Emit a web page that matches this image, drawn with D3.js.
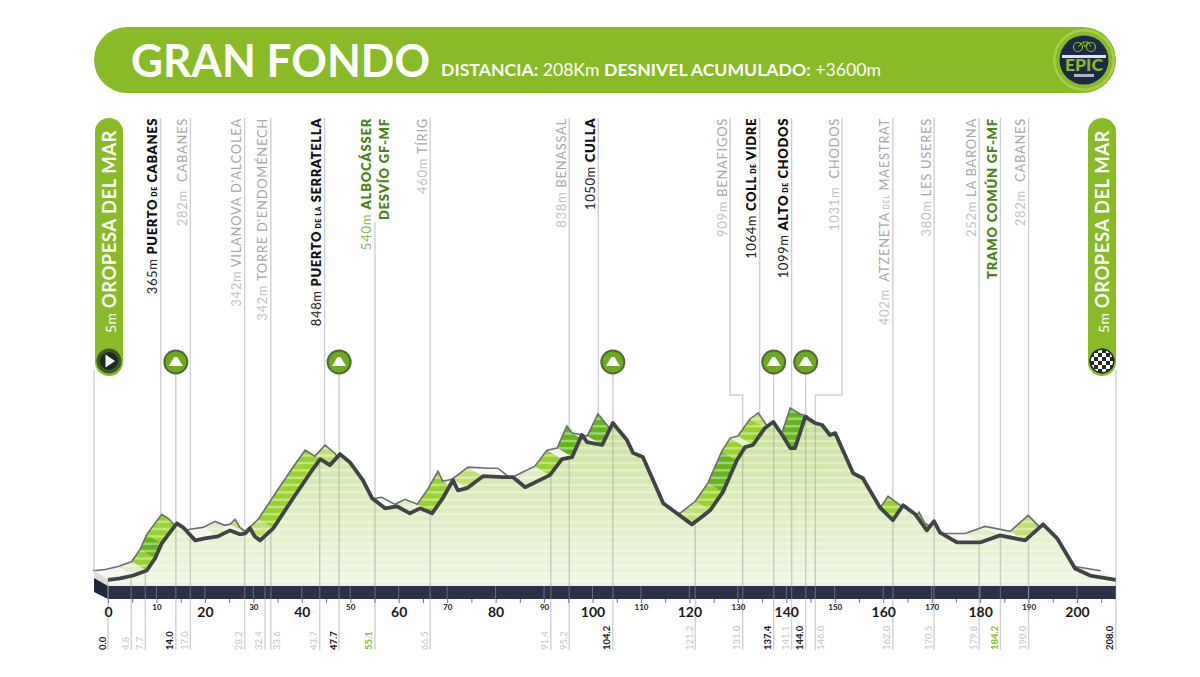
<!DOCTYPE html>
<html>
<head>
<meta charset="utf-8">
<script src="https://cdn.jsdelivr.net/npm/d3@7"></script>
<style>
  html, body { margin: 0; background: #fff; }
  text { font-family: Lato, "Open Sans", sans-serif; }
</style>
</head>
<body>
<script>
//Profile: km and metres
var profileKm = [0,2.5,5.2,8,9.7,11.1,12.8,14.2,15.5,18,20,22.7,25.2,27.2,28.3,29.3,30.3,31.4,34.1,38.2,41.7,43.8,45.8,47.9,49.9,52.6,54.5,57.2,59.6,62.3,64.4,66.9,69.1,71.2,72.2,74.1,77.4,81.5,83.6,86.1,91.2,93.7,95.8,97.8,98.9,102,104.2,107.1,108.4,110.4,114.6,117.4,120.5,122.2,124.3,126.9,129.8,131.5,133.1,135.6,137.3,139.3,140.8,141.8,143.9,145.9,147.4,149,150.1,153.8,155.8,159.3,162,164.1,166.6,169,170.5,171.7,175.2,180,184.1,189.3,193,195.9,199.6,202.7,208];
var profileElev = [5,14,34,68,150,253,328,389,362,273,287,300,341,314,321,355,300,273,355,560,730,826,785,860,805,683,560,491,505,457,491,457,560,683,614,628,710,703,703,635,717,826,840,990,942,922,1072,956,867,840,526,457,382,423,478,601,819,908,922,1038,1079,983,901,901,1113,1072,1058,990,1003,730,696,498,410,512,451,341,403,328,259,259,307,273,382,287,82,34,5];

//Km marks written under the axis
var markKm = [0,4.8,7.7,14,17,28.2,32.4,33.6,43.7,47.7,55.1,66.5,91.4,95.2,104.2,121.2,131,137.4,141.1,144,146,162,170.5,179.8,184.2,190,208];
var markKind = ["climb","grey","grey","climb","grey","grey","grey","grey","grey","climb","green","grey","grey","grey","climb","grey","grey","climb","grey","climb","grey","grey","grey","grey","green","grey","climb"];

//Rotated place labels: where the label sits, where it leads, lower case words are set small
var labelKm = [10.9,17,28.2,33.6,44.7,55.1,66.5,95.2,101.2,128.4,134.5,141.1,151.5,162,170.5,179.8,184.2,190];
var labelTarget = [14,17,28.2,33.6,47.7,55.1,66.5,95.2,104.2,131,137.4,144,146,162,170.5,179.8,184.2,190];
var labelElev = ["365m","282m\u00A0","342m","342m","848m","540m","460m","838m","1050m","909m","1064m","1099m","1031m\u00A0","402m\u00A0","380m","252m","","282m\u00A0"];
var labelName = ["PUERTO de CABANES","CABANES","VILANOVA D'ALCOLEA","TORRE D'ENDOMÉNECH","PUERTO de la SERRATELLA","ALBOCÁSSER","TÍRIG","BENASSAL","CULLA","BENAFIGOS","COLL de VIDRE","ALTO de CHODOS","CHODOS","ATZENETA del MAESTRAT","LES USERES","LA BARONA","TRAMO COMÚN GF-MF","CABANES"];
var labelKind = ["climb","grey","grey","grey","climb","green","grey","grey","climb","grey","climb","climb","grey","grey","grey","grey","green","grey"];

var climbKm = [14,47.7,104.2,137.4,144];

//Width and height
var w = 1200;
var h = 677;

var bandTop = 586;
var bandBottom = 599;
var baseY = 583;
var labelTop = 118;
var backDx = -15;
var backDy = -9;

var x = d3.scaleLinear().domain([0, 200]).range([108, 1077]);
var y = d3.scaleLinear().domain([0, 1099]).range([580.5, 419]);

var gradeColor = d3.scaleThreshold()
                   .domain([8, 22, 38, 60])
                   .range(["#f5f6ee", "#e0eec6", "#bfe173", "#98d22c", "#62b51a"]);

var profile = profileKm.map(function(km, i) { return [km, profileElev[i]]; });

var svg = d3.select("body")
            .append("svg")
            .attr("width", w)
            .attr("height", h)
            .style("display", "block");

var defs = svg.append("defs");

var areaGrad = defs.append("linearGradient")
                   .attr("id", "areaGrad")
                   .attr("gradientUnits", "userSpaceOnUse")
                   .attr("x1", 0).attr("x2", 0)
                   .attr("y1", y(1099)).attr("y2", baseY);
areaGrad.append("stop").attr("offset", 0).attr("stop-color", "#c6e198");
areaGrad.append("stop").attr("offset", 1).attr("stop-color", "#f1f7e2");

//Header bar
svg.append("rect")
   .attr("x", 94).attr("y", 27)
   .attr("width", 1022).attr("height", 66)
   .attr("rx", 33)
   .attr("fill", "#88bb26");

svg.append("text")
   .attr("x", 131).attr("y", 77)
   .attr("font-size", 46)
   .attr("font-weight", 700)
   .attr("textLength", 299)
   .attr("lengthAdjust", "spacingAndGlyphs")
   .attr("fill", "#fff")
   .text("GRAN FONDO");

var sub = svg.append("text")
             .attr("x", 441).attr("y", 76)
             .attr("font-size", 17)
             .attr("textLength", 440)
             .attr("lengthAdjust", "spacingAndGlyphs")
             .attr("fill", "#fff");
sub.append("tspan").attr("font-weight", 700).text("DISTANCIA:");
sub.append("tspan").text(" 208Km ");
sub.append("tspan").attr("font-weight", 700).text("DESNIVEL ACUMULADO:");
sub.append("tspan").text(" +3600m");

//Logo in the header
var logo = svg.append("g").attr("transform", "translate(1084,60)");
logo.append("circle").attr("r", 31).attr("fill", "#a3cf4a");
logo.append("circle").attr("r", 28.5).attr("fill", "#88bb26");
logo.append("circle").attr("r", 24.5).attr("fill", "#1c2a47");
logo.append("circle").attr("cx", -6).attr("cy", -13).attr("r", 4.5).attr("fill", "none").attr("stroke", "#88bb26").attr("stroke-width", 1.2);
logo.append("circle").attr("cx", 7).attr("cy", -13).attr("r", 4.5).attr("fill", "none").attr("stroke", "#88bb26").attr("stroke-width", 1.2);
logo.append("path").attr("d", "M-6,-13L-1,-18L4,-18L7,-13M-1,-18L1,-13L4,-18").attr("fill", "none").attr("stroke", "#88bb26").attr("stroke-width", 1);
logo.append("rect").attr("x", -22).attr("y", -5).attr("width", 44).attr("height", 3).attr("fill", "#dfe4ea");
logo.append("text").attr("text-anchor", "middle").attr("y", 11).attr("font-size", 16).attr("font-weight", 900).attr("textLength", 38).attr("lengthAdjust", "spacingAndGlyphs").attr("fill", "#88bb26").text("EPIC");
logo.append("rect").attr("x", -10).attr("y", 14).attr("width", 20).attr("height", 3).attr("fill", "#aab2bd");

//Vertical lines that reach the top of the chart
function elbow(i) {
    var lx = x(labelKm[i]);
    var tx = x(labelTarget[i]);
    var top = labelName[i] == "ALBOCÁSSER" ? 222 : labelTop;
    if (labelKind[i] == "climb" || lx == tx) {
        return "M" + lx + "," + top + "V" + baseY;
    }
    return "M" + lx + "," + top + "V395H" + tx + "V" + baseY;
}

svg.append("g")
   .selectAll("path")
   .data(d3.range(labelKm.length))
   .enter()
   .append("path")
   .attr("d", elbow)
   .attr("fill", "none")
   .attr("stroke", "#cfcfcf")
   .attr("stroke-width", 1.4);

//Lines from the end pills
svg.append("path").attr("d", "M94,370V570M1116,370V578").attr("stroke", "#cfcfcf").attr("stroke-width", 1.4);

//Lines from the climb badges
svg.append("g")
   .selectAll("line")
   .data(climbKm)
   .enter()
   .append("line")
   .attr("x1", function(d) { return x(d); })
   .attr("x2", function(d) { return x(d); })
   .attr("y1", 362)
   .attr("y2", baseY)
   .attr("stroke", "#cfcfcf")
   .attr("stroke-width", 1.4);

//3D ribbon behind the profile, one quad per stretch, coloured by its grade
function quad(i) {
    var a = profile[i], b = profile[i + 1];
    return "M" + x(a[0]) + "," + y(a[1]) +
           "L" + x(b[0]) + "," + y(b[1]) +
           "L" + (x(b[0]) + backDx) + "," + (y(b[1]) + backDy) +
           "L" + (x(a[0]) + backDx) + "," + (y(a[1]) + backDy) + "Z";
}
var stretches = d3.range(profile.length - 1);

defs.append("clipPath").attr("id", "ribbonClip")
    .selectAll("path").data(stretches).enter().append("path").attr("d", quad);

svg.append("g")
   .selectAll("path")
   .data(stretches)
   .enter()
   .append("path")
   .attr("d", quad)
   .attr("stroke", "none")
   .attr("fill", function(i) {
       return gradeColor((profile[i + 1][1] - profile[i][1]) / (profile[i + 1][0] - profile[i][0]));
   });

var stripeLevels = d3.range(0, 1200, 50);

function stripes(clip, color, width) {
    svg.append("g")
       .attr("clip-path", "url(#" + clip + ")")
       .selectAll("line")
       .data(stripeLevels)
       .enter()
       .append("line")
       .attr("x1", 90).attr("x2", 1120)
       .attr("y1", function(d) { return y(d); })
       .attr("y2", function(d) { return y(d); })
       .attr("stroke", color)
       .attr("stroke-width", width);
}
stripes("ribbonClip", "rgba(255,255,255,0.4)", 2.5);

var line = d3.line()
             .x(function(d) { return x(d[0]); })
             .y(function(d) { return y(d[1]); });

//Back edge of the ribbon
svg.append("path")
   .attr("d", line(profile))
   .attr("transform", "translate(" + backDx + "," + backDy + ")")
   .attr("fill", "none")
   .attr("stroke", "#6b6e70")
   .attr("stroke-width", 1.6);

//Ground under the profile
var area = d3.area()
             .x(function(d) { return x(d[0]); })
             .y0(baseY)
             .y1(function(d) { return y(d[1]); });

defs.append("clipPath").attr("id", "areaClip").append("path").attr("d", area(profile));

svg.append("path")
   .attr("d", area(profile))
   .attr("fill", "url(#areaGrad)");

stripes("areaClip", "rgba(255,255,255,0.35)", 2.5);

//Side of the 3D block
svg.append("path").attr("d", "M94,570L108,580V586L94,578Z").attr("fill", "#dcdcdc");
svg.append("path").attr("d", "M94,578L108,586V599L94,592Z").attr("fill", "#20273c");

//Dark band
svg.append("rect")
   .attr("x", 108).attr("y", baseY)
   .attr("width", 1008).attr("height", bandTop - baseY)
   .attr("fill", "#eeeeee");
svg.append("rect")
   .attr("x", 108).attr("y", bandTop)
   .attr("width", 1008).attr("height", bandBottom - bandTop)
   .attr("fill", "#2b3248");

//Lines for every km mark, through the ground and below the band
function elevAt(km) {
    var i = d3.bisectLeft(profileKm, km);
    if (i == 0) return profileElev[0];
    var t = (km - profileKm[i - 1]) / (profileKm[i] - profileKm[i - 1]);
    return profileElev[i - 1] + t * (profileElev[i] - profileElev[i - 1]);
}

svg.append("g")
   .selectAll("line")
   .data(markKm)
   .enter()
   .append("line")
   .attr("x1", function(d) { return x(d); })
   .attr("x2", function(d) { return x(d); })
   .attr("y1", function(d) { return y(elevAt(d)); })
   .attr("y2", 650)
   .attr("stroke", "rgba(150,150,150,0.45)")
   .attr("stroke-width", 1.4);

//Axis: a big number every 20 km, a small one every 10 km
var axis = d3.axisBottom(x)
             .tickValues(d3.range(0, 208, 5))
             .tickSize(4)
             .tickPadding(5)
             .tickFormat(function(d) { return d % 10 == 0 ? d : ""; });

var axisG = svg.append("g")
               .attr("transform", "translate(0," + bandBottom + ")")
               .call(axis);
axisG.select(".domain").remove();
axisG.selectAll("line").attr("stroke", "#777");
axisG.selectAll("text")
     .attr("font-family", "Lato")
     .attr("font-weight", 700)
     .attr("fill", "#1a1a1a")
     .attr("font-size", function(d) { return d % 20 == 0 ? 14 : 8; })
     .attr("dy", function(d) { return d % 20 == 0 ? "0.62em" : "0.3em"; });

svg.append("g")
   .selectAll("line")
   .data(d3.range(0, 208, 10))
   .enter()
   .append("line")
   .attr("x1", function(d) { return x(d); })
   .attr("x2", function(d) { return x(d); })
   .attr("y1", bandTop)
   .attr("y2", bandBottom)
   .attr("stroke", "rgba(200,200,210,0.4)");

//Thick front line of the profile
svg.append("path")
   .attr("d", line(profile))
   .attr("fill", "none")
   .attr("stroke", "#414447")
   .attr("stroke-width", 3.8)
   .attr("stroke-linejoin", "round");

//Km numbers under the axis, a mark close behind another goes to the right of its line
var markColor = { climb: "#1a1a1a", grey: "#c4c4c4", green: "#8abf22" };

svg.append("g")
   .selectAll("text")
   .data(markKm)
   .enter()
   .append("text")
   .attr("transform", function(d, i) {
       var side = i > 0 && d - markKm[i - 1] <= 2 ? 9 : -2.5;
       return "translate(" + (x(d) + side) + ",650) rotate(-90)";
   })
   .attr("font-size", 9.5)
   .attr("font-weight", function(d, i) { return markKind[i] == "grey" ? 400 : 700; })
   .attr("fill", function(d, i) { return markColor[markKind[i]]; })
   .text(function(d) { return d3.format(".1f")(d); });

//Rotated place labels
var elevColor = { climb: "#222", grey: "#c2c2c2", green: "#8fb35a" };
var nameColor = { climb: "#111", grey: "#a8a8a8", green: "#4c8316" };
var labelSpacing = { climb: 0.6, grey: 0.7, green: 0.8 };

function placeLabel(g, tx, elev, name, kind) {
    var t = g.append("text")
             .attr("transform", "translate(" + tx + "," + labelTop + ") rotate(-90)")
             .attr("text-anchor", "end")
             .attr("font-size", 13)
             .attr("letter-spacing", labelSpacing[kind]);
    if (elev) {
        t.append("tspan").attr("fill", elevColor[kind]).text(elev + " ");
    }
    name.split(" ").forEach(function(word, j) {
        var small = word == word.toLowerCase();
        t.append("tspan")
         .attr("font-size", small ? 7 : 13)
         .attr("font-weight", kind == "grey" ? 400 : 800)
         .attr("fill", nameColor[kind])
         .text((j > 0 ? " " : "") + word.toUpperCase());
    });
}

var labels = svg.append("g");
labelName.forEach(function(name, i) {
    placeLabel(labels, x(labelKm[i]) - 3.5, labelElev[i], name, labelKind[i]);
});
placeLabel(labels, x(55.1) + 14, "", "DESVÍO GF-MF", "green");

//Climb badges
var badge = svg.append("g")
               .selectAll("g")
               .data(climbKm)
               .enter()
               .append("g")
               .attr("transform", function(d) { return "translate(" + x(d) + ",362)"; });
badge.append("circle").attr("r", 12.5).attr("fill", "#4d6a2f");
badge.append("circle").attr("r", 10.5).attr("fill", "#6fa91f");
badge.append("path").attr("d", "M-7,4L-1.5,-5L1.5,-5L7,4Z").attr("fill", "#fff");

//End pills
function endPill(px, name) {
    svg.append("rect")
       .attr("x", px - 14).attr("y", 118)
       .attr("width", 28).attr("height", 258)
       .attr("rx", 14)
       .attr("fill", "#88bb26");
    var t = svg.append("text")
               .attr("transform", "translate(" + (px + 6.5) + ",333) rotate(-90)")
               .attr("font-size", 18.5)
               .attr("letter-spacing", 0.5)
               .attr("fill", "#fff");
    t.append("tspan").attr("font-size", 14).text("5m ");
    t.append("tspan").attr("font-weight", 700).text(name);
    svg.append("circle").attr("cx", px).attr("cy", 361).attr("r", 12.5).attr("fill", "#3d5a24");
}
var placeStart = "OROPESA DEL MAR";
endPill(109, placeStart);
endPill(1102, placeStart);

//Start arrow
svg.append("circle").attr("cx", 109).attr("cy", 361).attr("r", 9).attr("fill", "#1d2a20");
svg.append("path").attr("d", "M105.5,354.5L115,361L105.5,367.5Z").attr("fill", "#fff");

//Chequered finish
svg.append("circle").attr("cx", 1102).attr("cy", 361).attr("r", 12.5).attr("fill", "#26292b");
defs.append("clipPath").attr("id", "flagClip").append("circle").attr("cx", 1102).attr("cy", 361).attr("r", 11);
svg.append("g")
   .attr("clip-path", "url(#flagClip)")
   .selectAll("rect")
   .data(d3.cross(d3.range(6), d3.range(6)).filter(function(d) { return (d[0] + d[1]) % 2 == 0; }))
   .enter()
   .append("rect")
   .attr("x", function(d) { return 1090 + d[0] * 4; })
   .attr("y", function(d) { return 349 + d[1] * 4; })
   .attr("width", 4).attr("height", 4)
   .attr("fill", "#fff");
</script>
</body>
</html>
